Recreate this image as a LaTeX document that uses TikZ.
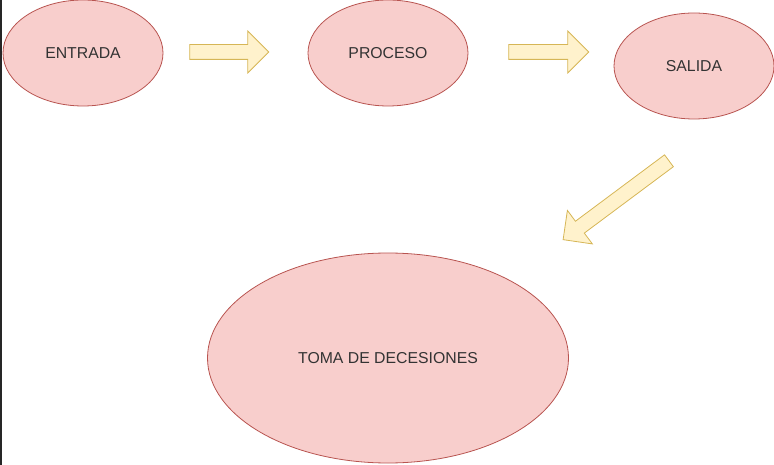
\documentclass[tikz,border=0pt]{standalone}
\usepackage{fontspec}
\setmainfont{Liberation Sans}
\usepackage{tikz}
\usetikzlibrary{shapes.geometric}
\usetikzlibrary{shapes.arrows}

\definecolor{rojofill}{HTML}{F8CECC}
\definecolor{rojoline}{HTML}{B85450}
\definecolor{amarfill}{HTML}{FFF2CC}
\definecolor{amarline}{HTML}{D6B656}

\begin{document}
\begin{tikzpicture}[x=1pt,y=-1pt,
    etapa/.style={ellipse,draw=rojoline,fill=rojofill,line width=0.8pt,inner sep=0pt,
                  font=\fontsize{15.8}{18}\selectfont,text=black!80},
    flecha/.style={single arrow,draw=amarline,fill=amarfill,line width=0.8pt,
                   inner xsep=0pt,inner ysep=7pt,text height=0pt,text depth=0pt,
                   single arrow head extend=13.5pt,
                   single arrow head indent=0pt}]

    \useasboundingbox (0,0) rectangle (774,465);
    \fill[black!85] (0,0) rectangle (2,465);

    \node[etapa,minimum width=160pt,minimum height=106pt] (entrada) at (83, 53)  {ENTRADA};
    \node[etapa,minimum width=160pt,minimum height=106pt] (proceso) at (388, 53) {PROCESO};
    \node[etapa,minimum width=160pt,minimum height=106pt] (salida)  at (694, 66) {SALIDA};
    \node[etapa,minimum width=361pt,minimum height=210pt] (toma)    at (388, 358) {TOMA DE DECESIONES};

    \node[flecha,minimum height=79pt]                (f1) at (225.5, 52) {};
    \node[flecha,minimum height=80pt]                (f2) at (545, 52)   {};
    \node[flecha,minimum height=132pt,rotate=216.7]  (f3) at (619, 198) {};
  \end{tikzpicture}
\end{document}
